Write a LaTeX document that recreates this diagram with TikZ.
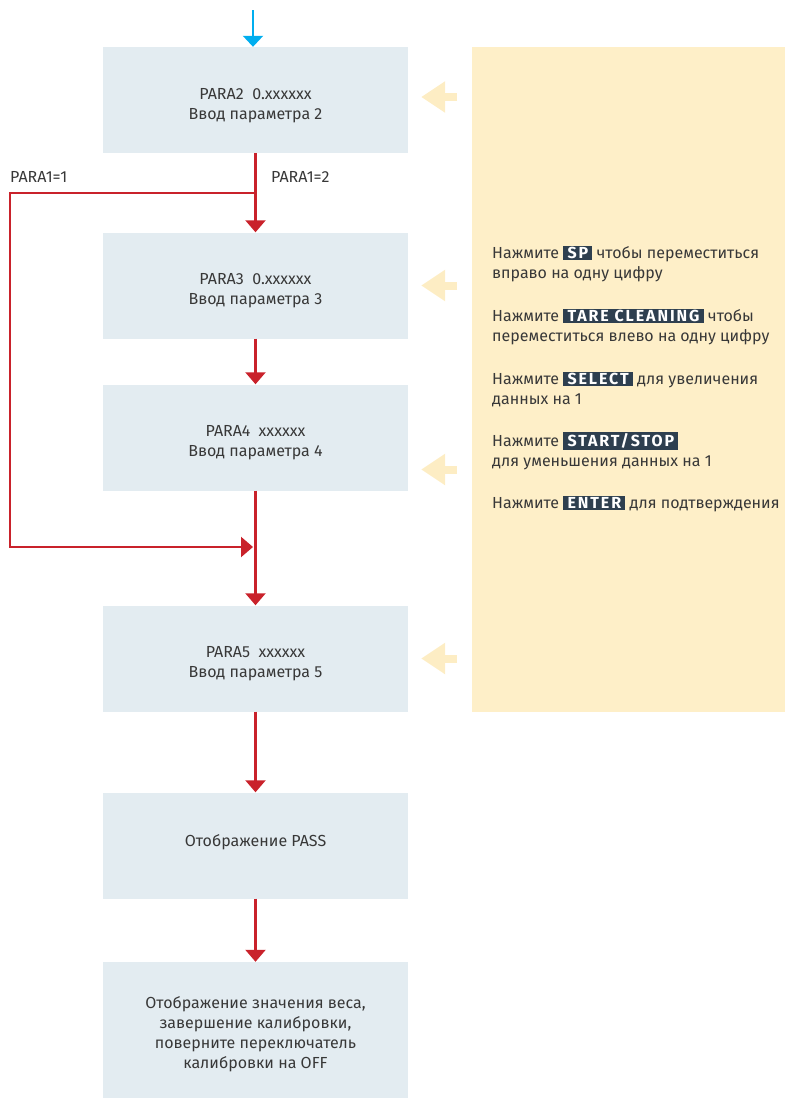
\documentclass[tikz,border=0pt]{standalone}
\usepackage{fontspec}
\setmainfont{Fira Sans}
\usepackage{tikz}
\usetikzlibrary{arrows.meta,calc}

\definecolor{boxfill}{HTML}{E3ECF1}
\definecolor{panelfill}{HTML}{FEEFC8}
\definecolor{hintfill}{HTML}{FDEDC4}
\definecolor{flowred}{HTML}{C9222B}
\definecolor{flowcyan}{HTML}{00AEEF}
\definecolor{keybg}{HTML}{2E3F4F}
\definecolor{textgray}{HTML}{383838}

\newcommand{\keycap}[1]{{\setlength{\fboxsep}{1.5pt}\colorbox{keybg}{\textcolor{white}{\addfontfeatures{LetterSpace=12}\bfseries\,#1\,}}}}
\newcommand{\topstrut}{\rule{0pt}{22pt}}

\begin{document}
\begin{tikzpicture}[x=1pt, y=-1pt,
    font=\fontsize{16}{20}\selectfont, text=textgray,
    stepbox/.style={rectangle, fill=boxfill, minimum width=305pt, minimum height=106pt, inner sep=0pt, align=center},
    arrow/.style={-{Triangle[length=12pt,width=20pt]}, line width=2.2pt, flowred},
    hint/.style={-{Triangle[length=24pt,width=30pt]}, line width=8pt, hintfill}
]
\useasboundingbox (0,0) rectangle (785,1098);

% instruction panel
\node[rectangle, fill=panelfill, minimum width=313pt, minimum height=665pt, inner sep=0pt, anchor=north west] (panel) at (472,47) {};

\node[stepbox] (para2) at (255.5,100) {\topstrut PARA2\ \ 0.xxxxxx\\Ввод параметра 2};
\node[stepbox] (para3) at (255.5,285.5) {\topstrut PARA3\ \ 0.xxxxxx\\Ввод параметра 3};
\node[stepbox] (para4) at (255.5,437.5) {\topstrut PARA4\ \ xxxxxx\\Ввод параметра 4};
\node[stepbox] (para5) at (255.5,658.5) {\topstrut PARA5\ \ xxxxxx\\Ввод параметра 5};
\node[stepbox] (pass) at (255.5,845.5) {Отображение PASS\rule[-10pt]{0pt}{10pt}};
\node[stepbox, minimum height=136pt] (done) at (255.5,1030) {\rule{0pt}{20pt}Отображение значения веса,\\завершение калибровки,\\поверните переключатель\\калибровки на OFF};

% entry arrow
\coordinate (entry) at (253,10);
\draw[-{Triangle[length=11pt,width=20pt]}, line width=2.2pt, flowcyan] (entry) -- (entry |- para2.north);

% branches
\coordinate (split) at (256,193);
\coordinate (join) at (253,547);
\node[anchor=base west, inner sep=0pt] (lbl1) at (10,182) {PARA1=1};
\node[anchor=base west, inner sep=0pt] (lbl2) at (271,182) {PARA1=2};

\draw[arrow] (para2) -- (para3);
\draw[arrow] (split) -- (10,193) |- (join);
\draw[arrow] (para3) -- (para4);
\draw[arrow] (para4) -- (para5);
\draw[arrow] (para5) -- (pass);
\draw[arrow] (pass) -- (done);

% hints towards the boxes
\draw[hint] ([xshift=49pt,yshift=3pt]para2.east) -- ([xshift=13pt,yshift=3pt]para2.east);
\draw[hint] ([xshift=49pt]para3.east) -- ([xshift=13pt]para3.east);
\draw[hint] ([xshift=49pt,yshift=-32pt]para4.east) -- ([xshift=13pt,yshift=-32pt]para4.east);
\draw[hint] ([xshift=49pt]para5.east) -- ([xshift=13pt]para5.east);

% key instructions
\node[anchor=north west, align=left, inner sep=0pt] (keys) at (492,245.5) {%
Нажмите \keycap{SP} чтобы переместиться\\
вправо на одну цифру\\[23pt]
Нажмите \keycap{TARE CLEANING} чтобы\\
переместиться влево на одну цифру\\[23pt]
Нажмите \keycap{SELECT} для увеличения\\
данных на 1\\[22pt]
Нажмите \keycap{START/STOP}\\
для уменьшения данных на 1\\[22pt]
Нажмите \keycap{ENTER} для подтверждения};
\end{tikzpicture}
\end{document}
